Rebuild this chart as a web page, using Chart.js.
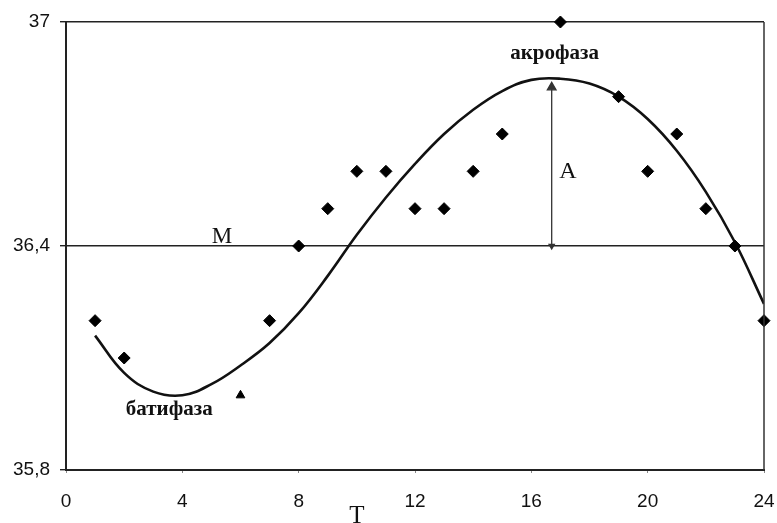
<!DOCTYPE html>
<html>
<head>
<meta charset="utf-8">
<script src="https://cdn.jsdelivr.net/npm/chart.js@4.4.1/dist/chart.umd.min.js"></script>
<style>
html,body{margin:0;padding:0;background:#fff;}
#wrap{width:777px;height:523px;position:relative;}
</style>
</head>
<body>
<div id="wrap"><canvas id="c" width="777" height="523"></canvas></div>
<script>
// ---- data ----
const obsHours = [1, 2, 6, 7, 8, 9, 10, 11, 12, 13, 14, 15, 17, 19, 20, 21, 22, 23, 24];
const obsTemp  = [36.2, 36.1, 36.0, 36.2, 36.4, 36.5, 36.6, 36.6, 36.5, 36.5, 36.6, 36.7, 37.0, 36.8, 36.6, 36.7, 36.5, 36.4, 36.2];
const fitHours = [1, 2, 3, 4, 5, 6, 7, 8, 9, 10, 11, 12, 13, 14, 15, 16, 17, 18, 19, 20, 21, 22, 23, 24];
const fitTemp  = [36.16, 36.06, 36.01, 36.0, 36.03, 36.08, 36.14, 36.22, 36.32, 36.43, 36.53, 36.62, 36.70, 36.765, 36.815, 36.845, 36.848, 36.835, 36.80, 36.74, 36.655, 36.545, 36.41, 36.245];
const mesor = 36.4;
const acrophaseHour = 16.7;
const acrophaseTemp = 36.845;
const xTicks = [0, 4, 8, 12, 16, 20, 24];
const yTicks = [35.8, 36.4, 37];
const yTickLabels = ['35,8', '36,4', '37'];
const xTitle = 'T';
const annotations = [
  {text: 'M', x: 5.36, y: 36.425, font: '23px "Liberation Serif"'},
  {text: 'A', x: 17.26, y: 36.60, font: '24px "Liberation Serif"'},
  {text: 'акрофаза', x: 16.8, y: 36.915, font: 'bold 21px "Liberation Serif"'},
  {text: 'батифаза', x: 3.55, y: 35.962, font: 'bold 21px "Liberation Serif"'}
];

// ---- build ----
const obsPoints = obsHours.map((h, i) => ({x: h, y: obsTemp[i]}));
const fitPoints = fitHours.map((h, i) => ({x: h, y: fitTemp[i]}));
const arrowPoints = [{x: acrophaseHour, y: mesor}, {x: acrophaseHour, y: acrophaseTemp - 0.02}];
const obsStyles = obsHours.map(h => h === 6 ? 'triangle' : 'rectRot');
const obsRadius = obsHours.map(h => h === 6 ? 5 : 6);

const decor = {
  id: 'decor',
  beforeDraw(chart) {
    const ctx = chart.ctx;
    ctx.save();
    ctx.fillStyle = '#fff';
    ctx.fillRect(0, 0, chart.width, chart.height);
    ctx.restore();
  },
  afterDatasetsDraw(chart) {
    const ctx = chart.ctx, a = chart.chartArea;
    const xs = chart.scales.x, ys = chart.scales.y;
    ctx.save();
    ctx.strokeStyle = '#333';
    ctx.lineWidth = 1.5;
    ctx.beginPath();
    ctx.moveTo(a.right, a.top);
    ctx.lineTo(a.right, a.bottom);
    ctx.stroke();
    ctx.fillStyle = '#111';
    ctx.textAlign = 'center';
    ctx.textBaseline = 'middle';
    annotations.forEach(an => {
      ctx.font = an.font;
      ctx.fillText(an.text, xs.getPixelForValue(an.x), ys.getPixelForValue(an.y));
    });
    ctx.font = '25px "Liberation Serif"';
    ctx.textBaseline = 'alphabetic';
    ctx.fillText(xTitle, xs.getPixelForValue(10.0), a.bottom + 53);
    ctx.restore();
  }
};

new Chart(document.getElementById('c'), {
  type: 'scatter',
  data: {
    datasets: [
      {
        data: fitPoints, showLine: true, borderColor: '#111', borderWidth: 2.6,
        pointRadius: 0, tension: 0.4, order: 2
      },
      {
        data: arrowPoints, showLine: true, borderColor: '#333', borderWidth: 1.3,
        pointStyle: 'triangle', pointRadius: [3, 5], rotation: [180, 0],
        pointBackgroundColor: '#333', pointBorderColor: '#333', order: 3
      },
      {
        data: obsPoints, showLine: false, pointStyle: obsStyles, pointRadius: obsRadius,
        pointBackgroundColor: '#000', pointBorderColor: '#000', pointBorderWidth: 1,
        clip: false, order: 1
      }
    ]
  },
  options: {
    responsive: false,
    animation: false,
    events: [],
    layout: {padding: {top: 22, right: 13, left: 0, bottom: 0}},
    plugins: {legend: {display: false}, tooltip: {enabled: false}},
    scales: {
      x: {
        type: 'linear', min: 0, max: 24,
        afterBuildTicks: s => { s.ticks = xTicks.map(v => ({value: v})); },
        afterFit: s => { s.height = 53; s.paddingLeft = 0; s.paddingRight = 0; },
        ticks: {color: '#111', font: {family: '"Liberation Sans"', size: 19}, padding: 17, maxRotation: 0},
        grid: {drawOnChartArea: false, tickLength: 3, color: '#888', lineWidth: 1},
        border: {color: '#222', width: 2}
      },
      y: {
        type: 'linear', min: 35.8, max: 37,
        afterBuildTicks: s => { s.ticks = yTicks.map(v => ({value: v})); },
        afterFit: s => { s.width = 66; s.paddingTop = 0; s.paddingBottom = 0; },
        ticks: {color: '#111', font: {family: '"Liberation Sans"', size: 19},
                padding: 10, callback: (v, i) => yTickLabels[i]},
        grid: {color: '#222', lineWidth: 1.4, tickLength: 6},
        border: {color: '#222', width: 2}
      }
    }
  },
  plugins: [decor]
});
</script>
</body>
</html>
